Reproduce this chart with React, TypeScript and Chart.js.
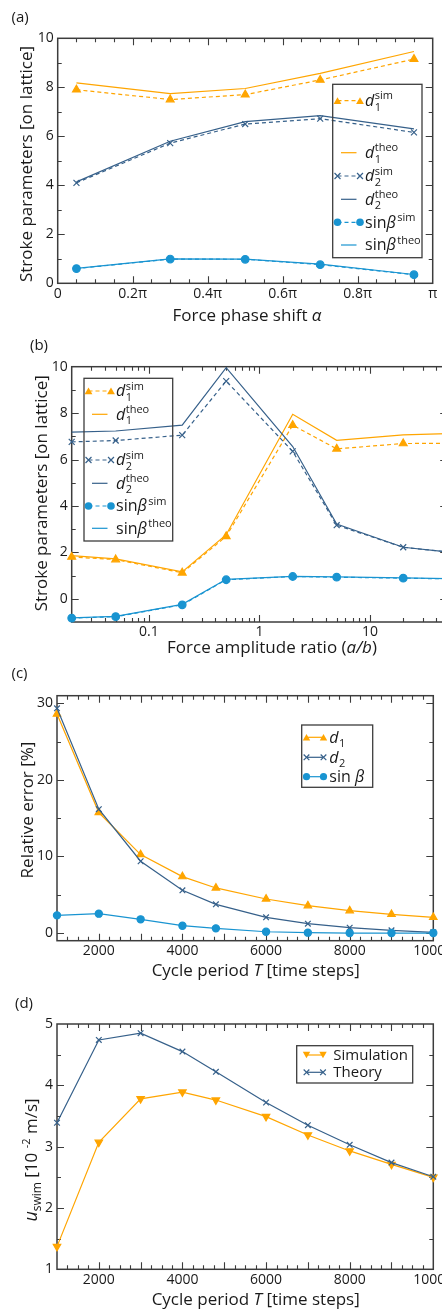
import React, { useEffect, useRef } from 'react';
import { Chart, registerables } from 'chart.js';
Chart.register(...registerables);

const FONT = '"Open Sans", "Noto Sans", sans-serif';
const ORANGE = '#FFA500';
const DARK = '#36608A';
const LIGHT = '#1994D1';
const FRAME = '#3c3c3c';
const TEXT = '#1a1a1a';

// ---------------- (a) Force phase shift ----------------
const phaseShift = [0.05, 0.3, 0.5, 0.7, 0.95]; // in units of π
const aD1Sim = [7.9, 7.5, 7.7, 8.3, 9.15];
const aD1Theo = [8.18, 7.74, 7.95, 8.57, 9.46];
const aD2Sim = [4.1, 5.72, 6.5, 6.72, 6.16];
const aD2Theo = [4.14, 5.8, 6.6, 6.84, 6.3];
const aSinSim = [0.6, 0.99, 0.98, 0.76, 0.35];
const aSinTheo = [0.61, 1.0, 0.99, 0.78, 0.36];
const aXTicks = [0, 0.2, 0.4, 0.6, 0.8, 1];
const aXTickLabels = ['0', '0.2π', '0.4π', '0.6π', '0.8π', 'π'];
const aXMinor = [0.05, 0.1, 0.15, 0.25, 0.3, 0.35, 0.45, 0.5, 0.55, 0.65, 0.7, 0.75, 0.85, 0.9, 0.95];
const aYTicks = [0, 2, 4, 6, 8, 10];
const aYMinor = [1, 3, 5, 7, 9];

// ---------------- (b) Force amplitude ratio ----------------
const ampRatio = [0.02, 0.05, 0.2, 0.5, 2, 5, 20, 50];
const bD1Sim = [1.8, 1.69, 1.12, 2.69, 7.48, 6.46, 6.69, 6.7];
const bD1Theo = [1.86, 1.72, 1.16, 2.76, 7.95, 6.83, 7.06, 7.12];
const bD2Sim = [6.76, 6.82, 7.05, 9.38, 6.35, 3.17, 2.22, 2.02];
const bD2Theo = [7.18, 7.23, 7.48, 9.96, 6.56, 3.22, 2.22, 2.02];
const bSinSim = [-0.83, -0.77, -0.26, 0.82, 0.96, 0.93, 0.89, 0.86];
const bSinTheo = [-0.82, -0.76, -0.24, 0.84, 0.97, 0.94, 0.9, 0.87];
const bXTicks = [0.1, 1, 10];
const bXTickLabels = ['0.1', '1', '10'];
const bXMinor = [0.03, 0.04, 0.05, 0.06, 0.07, 0.08, 0.09, 0.2, 0.3, 0.4, 0.5, 0.6, 0.7, 0.8, 0.9, 2, 3, 4, 5, 6, 7, 8, 9, 20, 30, 40];
const bYTicks = [0, 2, 4, 6, 8, 10];
const bYMinor = [-1, 1, 3, 5, 7, 9];

// ---------------- (c) Relative error ----------------
const cyclePeriod = [1000, 2000, 3000, 4000, 4800, 6000, 7000, 8000, 9000, 10000];
const cErrD1 = [28.6, 15.74, 10.25, 7.37, 5.89, 4.45, 3.58, 2.92, 2.44, 2.05];
const cErrD2 = [29.35, 16.18, 9.38, 5.58, 3.75, 2.05, 1.22, 0.7, 0.35, 0.09];
const cErrSin = [2.31, 2.53, 1.79, 0.96, 0.61, 0.17, 0.05, 0.0, 0.0, 0.0];
const tXTicks = [2000, 4000, 6000, 8000, 10000];
const tXTickLabels = ['2000', '4000', '6000', '8000', '10000'];
const tXMajorMarks = [2000, 3000, 4000, 5000, 6000, 7000, 8000, 9000];
const cYTicks = [0, 10, 20, 30];
const cYMinor = [5, 15, 25];

// ---------------- (d) Swim speed ----------------
const uSim = [1.37, 3.07, 3.78, 3.89, 3.76, 3.49, 3.19, 2.93, 2.71, 2.5];
const uTheory = [3.39, 4.74, 4.85, 4.55, 4.22, 3.72, 3.35, 3.03, 2.74, 2.51];
const dYTicks = [1, 2, 3, 4, 5];
const dYMinor = [1.5, 2.5, 3.5, 4.5];

function quarterTicks(from: number, to: number, step: number, skip: number) {
  const out: number[] = [];
  for (let v = from; v <= to + 1e-9; v += step) if (Math.abs(v / skip - Math.round(v / skip)) > 1e-6) out.push(v);
  return out;
}
const tXMinor = quarterTicks(1000, 10000, 250, 1000);

type Seg = { t?: string; it?: boolean; sz?: number; sub?: string; sup?: string; pre?: number };

function fnt(sz: number, it?: boolean) {
  return `${it ? 'italic ' : ''}${sz}px ${FONT}`;
}
const SCRIPT = 11;
function segW(ctx: CanvasRenderingContext2D, s: Seg) {
  const pre = s.pre ?? 0;
  if (s.sub !== undefined || s.sup !== undefined) {
    ctx.font = fnt(s.sz ?? SCRIPT);
    const w1 = s.sub ? ctx.measureText(s.sub).width : 0;
    const w2 = s.sup ? ctx.measureText(s.sup).width : 0;
    return pre + Math.max(w1, w2);
  }
  ctx.font = fnt(s.sz ?? 16, s.it);
  return pre + ctx.measureText(s.t ?? '').width;
}
function drawRich(ctx: CanvasRenderingContext2D, segs: Seg[], x: number, y: number, base: number, align: 'left' | 'center') {
  const norm = segs.map((s) => (s.sub !== undefined || s.sup !== undefined ? s : { ...s, sz: s.sz ?? base }));
  let total = 0;
  for (const s of norm) total += segW(ctx, s);
  let cx = align === 'center' ? x - total / 2 : x;
  ctx.textAlign = 'left';
  ctx.textBaseline = 'alphabetic';
  ctx.fillStyle = TEXT;
  for (const s of norm) {
    const w = segW(ctx, s);
    const pre = s.pre ?? 0;
    if (s.sub !== undefined || s.sup !== undefined) {
      ctx.font = fnt(s.sz ?? SCRIPT);
      if (s.sub) ctx.fillText(s.sub, cx + pre, y + base * 0.28);
      if (s.sup) ctx.fillText(s.sup, cx + pre, y - base * 0.42);
    } else {
      ctx.font = fnt(s.sz ?? base, s.it);
      ctx.fillText(s.t ?? '', cx + pre, y);
    }
    cx += w;
  }
}

type Marker = 'tri' | 'tridown' | 'cross' | 'circle';
function drawMarker(ctx: CanvasRenderingContext2D, type: Marker, x: number, y: number, r: number, color: string) {
  ctx.save();
  ctx.fillStyle = color;
  ctx.strokeStyle = color;
  ctx.lineWidth = 1.2;
  ctx.setLineDash([]);
  ctx.beginPath();
  if (type === 'tri' || type === 'tridown') {
    const s = type === 'tri' ? -1 : 1;
    ctx.moveTo(x, y + s * r);
    ctx.lineTo(x - r * 0.866, y - s * r * 0.5);
    ctx.lineTo(x + r * 0.866, y - s * r * 0.5);
    ctx.closePath();
    ctx.fill();
  } else if (type === 'circle') {
    ctx.arc(x, y, r, 0, Math.PI * 2);
    ctx.fill();
  } else {
    const d = r * 0.707;
    ctx.moveTo(x - d, y - d);
    ctx.lineTo(x + d, y + d);
    ctx.moveTo(x + d, y - d);
    ctx.lineTo(x - d, y + d);
    ctx.stroke();
  }
  ctx.restore();
}

type LegendEntry = { y: number; color: string; dash?: number[]; marker?: Marker; r?: number; segs: Seg[] };
type LegendCfg = { box: [number, number, number, number]; sx0: number; sx1: number; tx: number; base: number; entries: LegendEntry[] };

type Panel = {
  key: string;
  top: number;
  width: number;
  height: number;
  area: { l: number; t: number; r: number; b: number };
  xType: 'linear' | 'logarithmic';
  xMin: number;
  xMax: number;
  yMin: number;
  yMax: number;
  xTicks: number[];
  xLabels: string[];
  xMajorMarks: number[];
  xMinor: number[];
  yTicks: number[];
  yMinor: number[];
  datasets: any[];
  legend: LegendCfg;
  xTitle: { segs: Seg[]; x: number; y: number };
  yTitle: { segs: Seg[]; x: number; y: number };
  label: { t: string; x: number; y: number };
};

function ds(xs: number[], ys: number[], color: string, o: { dash?: number[]; marker?: string; r?: number; rot?: number }) {
  return {
    data: xs.map((x, i) => ({ x, y: ys[i] })),
    borderColor: color,
    backgroundColor: color,
    borderWidth: 1.2,
    borderDash: o.dash ?? [],
    pointStyle: o.marker ?? 'circle',
    pointRadius: o.marker ? o.r ?? 4 : 0,
    pointHoverRadius: 0,
    pointBorderWidth: 1.2,
    pointRotation: o.rot ?? 0,
    tension: 0,
    clip: false,
    fill: false,
  };
}

const DASH = [4, 3];
const strokeTitle: Seg[] = [{ t: 'Stroke parameters [on lattice]' }];

const legendSix = (): LegendEntry[] => [
  { y: 0, color: ORANGE, dash: DASH, marker: 'tri', r: 4.5, segs: [{ t: 'd', it: true }, { sub: '1', sup: 'sim', pre: 0.5 }] },
  { y: 0, color: ORANGE, segs: [{ t: 'd', it: true }, { sub: '1', sup: 'theo', pre: 0.5 }] },
  { y: 0, color: DARK, dash: DASH, marker: 'cross', r: 4.2, segs: [{ t: 'd', it: true }, { sub: '2', sup: 'sim', pre: 0.5 }] },
  { y: 0, color: DARK, segs: [{ t: 'd', it: true }, { sub: '2', sup: 'theo', pre: 0.5 }] },
  { y: 0, color: LIGHT, dash: DASH, marker: 'circle', r: 3.8, segs: [{ t: 'sin' }, { t: 'β', it: true }, { sup: 'sim', pre: 1.5 }] },
  { y: 0, color: LIGHT, segs: [{ t: 'sin' }, { t: 'β', it: true }, { sup: 'theo', pre: 1.5 }] },
];
function withY(entries: LegendEntry[], ys: number[]) {
  return entries.map((e, i) => ({ ...e, y: ys[i] }));
}

const panels: Panel[] = [
  {
    key: 'a',
    top: 0,
    width: 442,
    height: 327,
    area: { l: 57.7, t: 38.3, r: 432.7, b: 283.3 },
    xType: 'linear',
    xMin: 0,
    xMax: 1,
    yMin: 0,
    yMax: 10,
    xTicks: aXTicks,
    xLabels: aXTickLabels,
    xMajorMarks: aXTicks,
    xMinor: aXMinor,
    yTicks: aYTicks,
    yMinor: aYMinor,
    datasets: [
      ds(phaseShift, aSinSim, LIGHT, { dash: DASH, marker: 'circle', r: 3.8 }),
      ds(phaseShift, aSinTheo, LIGHT, {}),
      ds(phaseShift, aD2Sim, DARK, { dash: DASH, marker: 'crossRot', r: 4.2 }),
      ds(phaseShift, aD2Theo, DARK, {}),
      ds(phaseShift, aD1Sim, ORANGE, { dash: DASH, marker: 'triangle', r: 4.5 }),
      ds(phaseShift, aD1Theo, ORANGE, {}),
    ],
    legend: {
      box: [332.7, 84.3, 422, 257.7],
      sx0: 337.5,
      sx1: 360,
      tx: 365,
      base: 16,
      entries: withY(legendSix(), [100.7, 152.7, 176, 199.3, 222.3, 245]),
    },
    xTitle: { segs: [{ t: 'Force phase shift ' }, { t: 'α', it: true }], x: 247, y: 321 },
    yTitle: { segs: strokeTitle, x: 32.2, y: 164 },
    label: { t: '(a)', x: 11.5, y: 21.5 },
  },
  {
    key: 'b',
    top: 327,
    width: 470,
    height: 331,
    area: { l: 71.7, t: 366.7, r: 447.2, b: 622 },
    xType: 'logarithmic',
    xMin: 0.02,
    xMax: 50,
    yMin: -1,
    yMax: 10,
    xTicks: bXTicks,
    xLabels: bXTickLabels,
    xMajorMarks: bXTicks,
    xMinor: bXMinor,
    yTicks: bYTicks,
    yMinor: bYMinor,
    datasets: [
      ds(ampRatio, bSinSim, LIGHT, { dash: DASH, marker: 'circle', r: 3.8 }),
      ds(ampRatio, bSinTheo, LIGHT, {}),
      ds(ampRatio, bD2Sim, DARK, { dash: DASH, marker: 'crossRot', r: 4.2 }),
      ds(ampRatio, bD2Theo, DARK, {}),
      ds(ampRatio, bD1Sim, ORANGE, { dash: DASH, marker: 'triangle', r: 4.5 }),
      ds(ampRatio, bD1Theo, ORANGE, {}),
    ],
    legend: {
      box: [84, 378.3, 172.7, 541],
      sx0: 88.5,
      sx1: 111,
      tx: 116,
      base: 16,
      entries: withY(legendSix(), [391, 414.3, 460, 483.3, 506, 528.3]),
    },
    xTitle: { segs: [{ t: 'Force amplitude ratio (' }, { t: 'a/b', it: true }, { t: ')' }], x: 272, y: 653 },
    yTitle: { segs: strokeTitle, x: 47.2, y: 493.3 },
    label: { t: '(b)', x: 30, y: 349.5 },
  },
  {
    key: 'c',
    top: 658,
    width: 470,
    height: 325,
    area: { l: 57, t: 695.7, r: 433.3, b: 940.7 },
    xType: 'linear',
    xMin: 1000,
    xMax: 10000,
    yMin: -1,
    yMax: 31,
    xTicks: tXTicks,
    xLabels: tXTickLabels,
    xMajorMarks: tXMajorMarks,
    xMinor: tXMinor,
    yTicks: cYTicks,
    yMinor: cYMinor,
    datasets: [
      ds(cyclePeriod, cErrSin, LIGHT, { marker: 'circle', r: 3.6 }),
      ds(cyclePeriod, cErrD2, DARK, { marker: 'crossRot', r: 4 }),
      ds(cyclePeriod, cErrD1, ORANGE, { marker: 'triangle', r: 4.3 }),
    ],
    legend: {
      box: [301.7, 725, 372.7, 787.3],
      sx0: 306.5,
      sx1: 323.5,
      tx: 329.3,
      base: 16,
      entries: [
        { y: 737.3, color: ORANGE, marker: 'tri', r: 4.3, segs: [{ t: 'd', it: true }, { sub: '1', pre: 0.5 }] },
        { y: 757.3, color: DARK, marker: 'cross', r: 4, segs: [{ t: 'd', it: true }, { sub: '2', pre: 0.5 }] },
        { y: 776.7, color: LIGHT, marker: 'circle', r: 3.6, segs: [{ t: 'sin ' }, { t: 'β', it: true }] },
      ],
    },
    xTitle: { segs: [{ t: 'Cycle period ' }, { t: 'T', it: true }, { t: ' [time steps]' }], x: 255.7, y: 976 },
    yTitle: { segs: [{ t: 'Relative error [%]' }], x: 32.9, y: 810 },
    label: { t: '(c)', x: 11.5, y: 678.3 },
  },
  {
    key: 'd',
    top: 983,
    width: 470,
    height: 328,
    area: { l: 57, t: 1024, r: 433.3, b: 1269.3 },
    xType: 'linear',
    xMin: 1000,
    xMax: 10000,
    yMin: 1,
    yMax: 5,
    xTicks: tXTicks,
    xLabels: tXTickLabels,
    xMajorMarks: tXMajorMarks,
    xMinor: tXMinor,
    yTicks: dYTicks,
    yMinor: dYMinor,
    datasets: [
      ds(cyclePeriod, uTheory, DARK, { marker: 'crossRot', r: 4 }),
      ds(cyclePeriod, uSim, ORANGE, { marker: 'triangle', r: 4.3, rot: 180 }),
    ],
    legend: {
      box: [296.7, 1045.7, 412.7, 1083],
      sx0: 306.5,
      sx1: 323,
      tx: 333.3,
      base: 15,
      entries: [
        { y: 1055, color: ORANGE, marker: 'tridown', r: 4.3, segs: [{ t: 'Simulation' }] },
        { y: 1072.3, color: DARK, marker: 'cross', r: 4, segs: [{ t: 'Theory' }] },
      ],
    },
    xTitle: { segs: [{ t: 'Cycle period ' }, { t: 'T', it: true }, { t: ' [time steps]' }], x: 255.7, y: 1305 },
    yTitle: {
      segs: [{ t: 'u', it: true, sz: 18 }, { sub: 'swim', sz: 12 }, { t: ' [10 ' }, { sup: '-2', sz: 11 }, { t: ' m/s]' }],
      x: 36.7,
      y: 1160,
    },
    label: { t: '(d)', x: 15, y: 1008.3 },
  },
];

function makeDecor(p: Panel) {
  return {
    id: 'decor_' + p.key,
    beforeDatasetsDraw(chart: any) {
      const { ctx, chartArea: a, scales } = chart;
      const xs = scales.x;
      const ys = scales.y;
      ctx.save();
      ctx.strokeStyle = FRAME;
      ctx.lineWidth = 1.1;
      ctx.beginPath();
      const xMark = (vals: number[], len: number) => {
        for (const v of vals) {
          const px = Math.round(xs.getPixelForValue(v)) + 0.5;
          if (px < a.left + 1 || px > a.right - 1) continue;
          ctx.moveTo(px, a.bottom);
          ctx.lineTo(px, a.bottom - len);
          ctx.moveTo(px, a.top);
          ctx.lineTo(px, a.top + len);
        }
      };
      const yMark = (vals: number[], len: number) => {
        for (const v of vals) {
          const py = Math.round(ys.getPixelForValue(v)) + 0.5;
          if (py < a.top + 1 || py > a.bottom - 1) continue;
          ctx.moveTo(a.left, py);
          ctx.lineTo(a.left + len, py);
          ctx.moveTo(a.right, py);
          ctx.lineTo(a.right - len, py);
        }
      };
      xMark(p.xMajorMarks, 7);
      xMark(p.xMinor, 4);
      yMark(p.yTicks, 7);
      yMark(p.yMinor, 4);
      ctx.stroke();
      ctx.lineWidth = 1.5;
      ctx.strokeRect(a.left, a.top, a.right - a.left, a.bottom - a.top);
      ctx.restore();
    },
    afterDraw(chart: any) {
      const ctx: CanvasRenderingContext2D = chart.ctx;
      ctx.save();
      ctx.translate(0, -p.top);
      // legend
      const L = p.legend;
      ctx.strokeStyle = FRAME;
      ctx.lineWidth = 1.3;
      ctx.strokeRect(L.box[0], L.box[1], L.box[2] - L.box[0], L.box[3] - L.box[1]);
      for (const e of L.entries) {
        ctx.save();
        ctx.strokeStyle = e.color;
        ctx.lineWidth = 1.2;
        ctx.setLineDash(e.dash ?? []);
        ctx.beginPath();
        const inset = e.marker ? 0 : 3.5;
        ctx.moveTo(L.sx0 + inset, e.y);
        ctx.lineTo(L.sx1 - inset, e.y);
        ctx.stroke();
        ctx.restore();
        if (e.marker) {
          const off = e.marker === 'tri' ? 1 : e.marker === 'tridown' ? -1 : 0;
          drawMarker(ctx, e.marker, L.sx0, e.y + off, e.r ?? 4, e.color);
          drawMarker(ctx, e.marker, L.sx1, e.y + off, e.r ?? 4, e.color);
        }
        drawRich(ctx, e.segs, L.tx, e.y + L.base * 0.34, L.base, 'left');
      }
      // titles
      drawRich(ctx, p.xTitle.segs, p.xTitle.x, p.xTitle.y, 17, 'center');
      ctx.save();
      ctx.translate(p.yTitle.x, p.yTitle.y);
      ctx.rotate(-Math.PI / 2);
      drawRich(ctx, p.yTitle.segs, 0, 0, 17, 'center');
      ctx.restore();
      ctx.font = fnt(15);
      ctx.fillStyle = TEXT;
      ctx.textAlign = 'left';
      ctx.textBaseline = 'alphabetic';
      ctx.fillText(p.label.t, p.label.x, p.label.y);
      ctx.restore();
    },
  };
}

function PanelChart({ p }: { p: Panel }) {
  const ref = useRef<HTMLCanvasElement | null>(null);
  useEffect(() => {
    if (!ref.current) return;
    const localTop = p.area.t - p.top;
    const localBottom = p.area.b - p.top;
    const chart = new Chart(ref.current, {
      type: 'line',
      data: { datasets: p.datasets },
      options: {
        responsive: false,
        animation: false,
        devicePixelRatio: 1,
        events: [],
        layout: { padding: { left: 0, top: localTop, right: p.width - p.area.r, bottom: 0 } },
        plugins: { legend: { display: false }, tooltip: { enabled: false }, title: { display: false } },
        scales: {
          x: {
            type: p.xType,
            min: p.xMin,
            max: p.xMax,
            bounds: 'data',
            grid: { display: false, drawTicks: false },
            border: { display: false },
            afterBuildTicks: (s: any) => {
              s.ticks = p.xTicks.map((v) => ({ value: v }));
            },
            afterFit: (s: any) => {
              s.height = p.height - localBottom;
            },
            ticks: {
              autoSkip: false,
              maxRotation: 0,
              minRotation: 0,
              padding: 2,
              color: TEXT,
              font: { family: FONT, size: 14 },
              callback: (_v: any, i: number) => p.xLabels[i],
            },
          },
          y: {
            type: 'linear',
            min: p.yMin,
            max: p.yMax,
            bounds: 'data',
            grid: { display: false, drawTicks: false },
            border: { display: false },
            afterBuildTicks: (s: any) => {
              s.ticks = p.yTicks.map((v) => ({ value: v }));
            },
            afterFit: (s: any) => {
              s.width = p.area.l;
            },
            ticks: {
              autoSkip: false,
              padding: 4,
              color: TEXT,
              font: { family: FONT, size: 14 },
              callback: (v: any) => String(v),
            },
          },
        },
      } as any,
      plugins: [makeDecor(p)],
    });
    return () => chart.destroy();
  }, [p]);
  return (
    <canvas
      ref={ref}
      width={p.width}
      height={p.height}
      style={{ position: 'absolute', left: 0, top: p.top, width: p.width, height: p.height, display: 'block' }}
    />
  );
}

export default function App() {
  return (
    <div
      style={{
        position: 'absolute',
        left: 0,
        top: 0,
        width: 442,
        height: 1311,
        overflow: 'hidden',
        background: '#ffffff',
      }}
    >
      {panels.map((p) => (
        <PanelChart key={p.key} p={p} />
      ))}
    </div>
  );
}
